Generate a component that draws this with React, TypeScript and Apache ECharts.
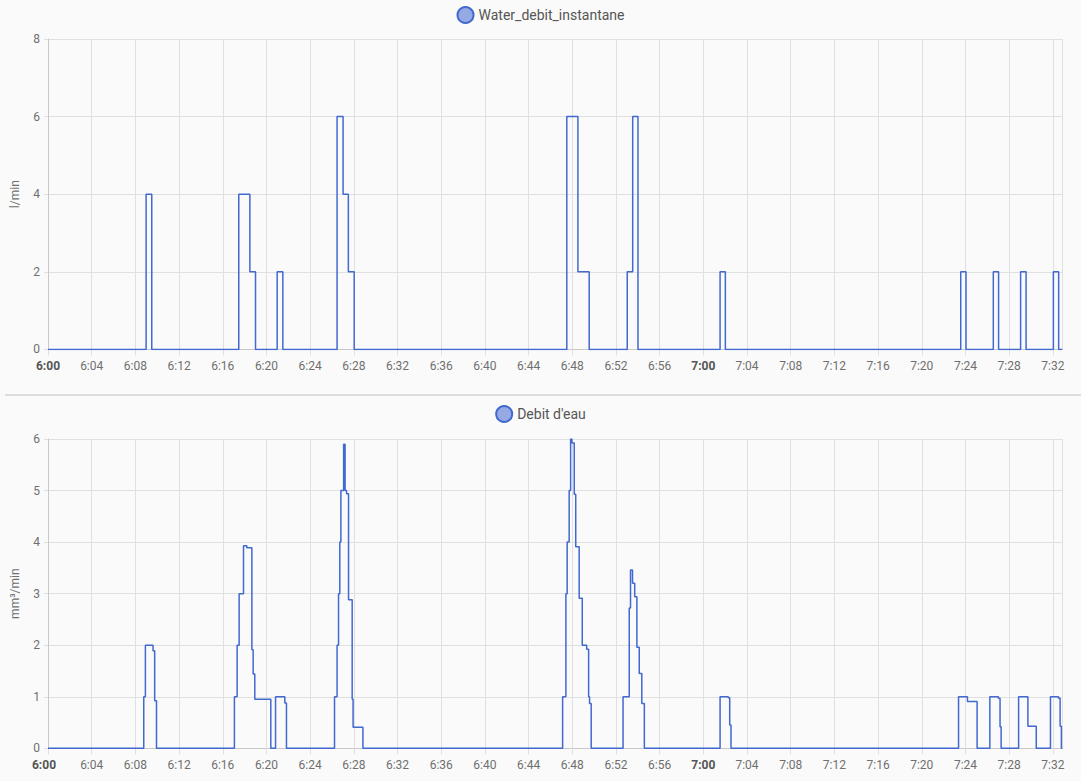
import React, { useEffect, useRef } from "react";
import * as echarts from "echarts";

// Time axis: minutes after 6:00, ticks every 4 minutes
const START_HOUR = 6;
const AXIS_END = "7:32:52";
const TICK_STEP_MIN = 4;

// Water_debit_instantane (l/min) — time of change, new value
const topTimes = [
  "6:00:00", "6:08:59", "6:09:30", "6:17:28", "6:18:29", "6:19:00", "6:20:59", "6:21:30",
  "6:26:28", "6:27:01", "6:27:30", "6:28:02", "6:47:30", "6:48:31", "6:49:33", "6:53:02",
  "6:53:32", "6:54:01", "7:01:32", "7:02:01", "7:23:34", "7:24:03", "7:26:33", "7:27:02",
  "7:29:03", "7:29:33", "7:32:03", "7:32:32", "7:32:52",
];
const topValues = [
  0, 4, 0, 4, 2, 0, 2, 0,
  6, 4, 2, 0, 6, 2, 0, 2,
  6, 0, 2, 0, 2, 0, 2, 0,
  2, 0, 2, 0, 0,
];

// Debit d'eau (mm³/min)
const bottomTimes = [
  "6:00:00", "6:08:46", "6:08:55", "6:09:37", "6:09:46", "6:09:56",
  "6:17:04", "6:17:19", "6:17:30", "6:17:54", "6:18:12", "6:18:40", "6:18:47", "6:18:56",
  "6:20:24", "6:20:50", "6:21:41", "6:21:50",
  "6:26:14", "6:26:28", "6:26:36", "6:26:43", "6:26:49", "6:27:04", "6:27:12", "6:27:20",
  "6:27:31", "6:27:51", "6:27:56", "6:28:50",
  "6:47:07", "6:47:25", "6:47:32", "6:47:43", "6:47:51", "6:47:58", "6:48:11", "6:48:19",
  "6:48:38", "6:48:55", "6:49:19", "6:49:30", "6:49:35", "6:49:44",
  "6:52:39", "6:53:13", "6:53:20", "6:53:31", "6:53:43", "6:53:55", "6:54:08", "6:54:22",
  "6:54:36",
  "7:01:32", "7:02:17", "7:02:25", "7:02:32",
  "7:23:22", "7:24:11", "7:25:04",
  "7:26:14", "7:27:01", "7:27:10", "7:27:16",
  "7:28:52", "7:29:43", "7:30:29",
  "7:31:47", "7:32:31", "7:32:40", "7:32:47", "7:32:52",
];
const bottomValues = [
  0, 1.0, 2.0, 1.89, 0.92, 0,
  1.0, 2.0, 3.0, 3.93, 3.89, 1.91, 1.44, 0.95,
  0, 1.0, 0.88, 0,
  1.0, 2.0, 3.0, 4.0, 5.0, 5.9, 5.0, 4.94,
  2.88, 0.95, 0.41, 0,
  1.0, 3.0, 4.0, 5.0, 6.0, 5.92, 4.93, 3.91,
  2.91, 2.0, 1.92, 1.0, 0.87, 0,
  1.0, 2.72, 3.46, 3.2, 2.94, 1.96, 1.45, 0.87,
  0,
  1.0, 0.98, 0.45, 0,
  1.0, 0.91, 0,
  1.0, 0.97, 0.42, 0,
  1.0, 0.43, 0,
  1.0, 0.97, 0.43, 0, 0,
];

const topName = "Water_debit_instantane";
const bottomName = "Debit d'eau";
const topUnit = "l/min";
const bottomUnit = "mm³/min";

function toMin(t: string): number {
  const [h, m, s] = t.split(":").map(Number);
  return (h - START_HOUR) * 60 + m + s / 60;
}

function makeFmt(padFirst: boolean) {
  return (v: number): string => {
    const total = Math.round(v);
    const h = START_HOUR + Math.floor(total / 60);
    const m = total % 60;
    const lbl = `${h}:${m < 10 ? "0" + m : m}`;
    if (total === 0 && padFirst) return `{b0|${lbl}}`;
    return m === 0 ? `{b|${lbl}}` : lbl;
  };
}

const LINE = "#4269d0";
const GRID = "#e0e0e0";
const TEXT = "#6f6f6f";

export default function App() {
  const ref = useRef<HTMLDivElement>(null);
  useEffect(() => {
    document.body.style.margin = "0";
    if (!ref.current) return;
    const chart = echarts.init(ref.current, undefined, { renderer: "svg" });
    const axisEnd = toMin(AXIS_END);
    const boldStyle = { fontWeight: "bold", color: "#555", fontSize: 12, fontFamily: "Roboto" };
    const xAxisBase = (gridIndex: number) => ({
      type: "value",
      gridIndex,
      min: 0,
      max: axisEnd,
      interval: TICK_STEP_MIN,
      axisLine: { show: true, lineStyle: { color: "#c8c8c8" } },
      axisTick: { show: true, length: 6, lineStyle: { color: GRID } },
      splitLine: { show: true, lineStyle: { color: GRID } },
      axisLabel: {
        color: TEXT,
        fontSize: 12,
        fontFamily: "Roboto",
        margin: 11,
        showMaxLabel: false,
        formatter: makeFmt(gridIndex === 1),
        rich: { b: boldStyle, b0: { ...boldStyle, padding: [0, 8, 0, 0] } },
      },
    });
    const yAxisBase = (gridIndex: number, max: number, name: string) => ({
      type: "value",
      gridIndex,
      min: 0,
      max,
      interval: max === 8 ? 2 : 1,
      name,
      nameLocation: "middle",
      nameGap: 27,
      nameMoveOverlap: false,
      nameTextStyle: { color: TEXT, fontSize: 12, fontFamily: "Roboto" },
      axisLine: { show: true, lineStyle: { color: "#c8c8c8" } },
      axisTick: { show: true, length: 4, lineStyle: { color: GRID } },
      splitLine: { show: true, lineStyle: { color: GRID } },
      axisLabel: { color: TEXT, fontSize: 12, fontFamily: "Roboto", margin: 8 },
    });
    const legendBase = (top: number, name: string) => ({
      top,
      left: "center",
      data: [name],
      itemWidth: 16,
      itemHeight: 16,
      itemGap: 10,
      icon: "circle",
      textStyle: { color: "#555", fontSize: 14, fontFamily: "Roboto" },
      selectedMode: false,
    });
    const gridBase = (top: number, height: number) => ({
      left: 48,
      right: 18.7,
      top,
      height,
      containLabel: false,
      outerBoundsMode: "none",
    });
    chart.setOption({
      animation: false,
      backgroundColor: "#fafafa",
      legend: [legendBase(1, topName), legendBase(400, bottomName)],
      grid: [gridBase(39, 310.4), gridBase(439, 309.3)],
      xAxis: [xAxisBase(0), xAxisBase(1)],
      yAxis: [yAxisBase(0, 8, topUnit), yAxisBase(1, 6, bottomUnit)],
      graphic: [
        {
          type: "line",
          shape: { x1: 5, y1: 395, x2: 1081, y2: 395 },
          style: { stroke: "#dcdcdc", lineWidth: 2 },
        },
      ],
      series: [
        {
          name: topName,
          type: "line",
          xAxisIndex: 0,
          yAxisIndex: 0,
          step: "end",
          showSymbol: false,
          symbol: "none",
          lineStyle: { color: LINE, width: 1.5 },
          itemStyle: { color: "#95a9e3", borderColor: LINE, borderWidth: 1 },
          data: topTimes.map((t, i) => [toMin(t), topValues[i]]),
        },
        {
          name: bottomName,
          type: "line",
          xAxisIndex: 1,
          yAxisIndex: 1,
          step: "end",
          showSymbol: false,
          symbol: "none",
          lineStyle: { color: LINE, width: 1.5 },
          itemStyle: { color: "#95a9e3", borderColor: LINE, borderWidth: 1 },
          data: bottomTimes.map((t, i) => [toMin(t), bottomValues[i]]),
        },
      ],
    });
    return () => chart.dispose();
  }, []);
  return <div ref={ref} style={{ width: 1081, height: 781 }} />;
}
